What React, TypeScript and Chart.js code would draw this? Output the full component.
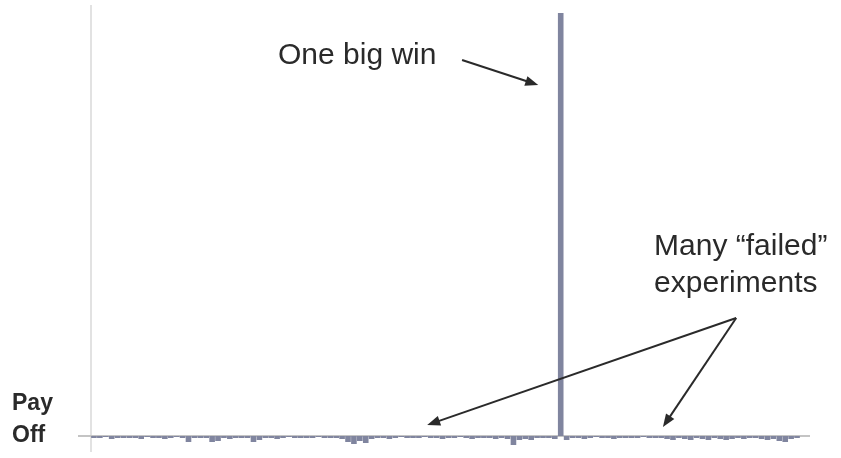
import React, { useEffect, useRef } from "react";
import { Chart, registerables } from "chart.js";

Chart.register(...registerables);

// ---- data ----
const experiments: string[] = Array.from({ length: 120 }, (_, i) => `E${i + 1}`);
const payoff: number[] = [
  -2, -2, -1, -3, -2, -2, -2, -2, -3, -1,
  -2, -2, -3, -2, -1, -2, -6, -2, -2, -2,
  -6, -5, -2, -3, -2, -2, -2, -6, -4, -2,
  -2, -3, -2, -1, -2, -2, -2, -2, -1, -2,
  -2, -2, -3, -6, -8, -5, -7, -3, -2, -2,
  -3, -2, -1, -2, -2, -2, -1, -2, -2, -3,
  -2, -2, -1, -2, -3, -2, -2, -2, -3, -2,
  -3, -9, -4, -3, -4, -2, -2, -2, -3, 423,
  -4, -2, -2, -3, -2, -1, -2, -2, -3, -2,
  -2, -2, -2, -1, -2, -2, -2, -3, -4, -2,
  -3, -4, -2, -3, -4, -2, -3, -4, -3, -2,
  -3, -2, -2, -3, -4, -3, -5, -6, -3, -2,
];
const yMin = -16;
const yMax = 431;

// annotations in data coordinates (category index, value)
const bigWinLabel = { text: "One big win", idx: 31.15, val: 372 };
const failedLabels = [
  { text: "Many \u201cfailed\u201d", idx: 94.8, val: 181 },
  { text: "experiments", idx: 94.8, val: 144 },
];
const arrows = [
  { from: [62.3, 376], to: [75.2, 351] },
  { from: [108.7, 118], to: [56.4, 11] },
  { from: [108.7, 118], to: [96.3, 9] },
];
const axisLabel = ["Pay", "Off"];

const drawArrow = (ctx: CanvasRenderingContext2D, x1: number, y1: number, x2: number, y2: number) => {
  const ang = Math.atan2(y2 - y1, x2 - x1);
  const hl = 13;
  const hw = 5;
  ctx.beginPath();
  ctx.moveTo(x1, y1);
  ctx.lineTo(x2 - Math.cos(ang) * hl * 0.8, y2 - Math.sin(ang) * hl * 0.8);
  ctx.stroke();
  ctx.beginPath();
  ctx.moveTo(x2, y2);
  ctx.lineTo(x2 - Math.cos(ang) * hl - Math.sin(ang) * hw, y2 - Math.sin(ang) * hl + Math.cos(ang) * hw);
  ctx.lineTo(x2 - Math.cos(ang) * hl + Math.sin(ang) * hw, y2 - Math.sin(ang) * hl - Math.cos(ang) * hw);
  ctx.closePath();
  ctx.fill();
};

const decorPlugin = {
  id: "decor",
  beforeDatasetsDraw(chart: any) {
    const { ctx, chartArea, scales } = chart;
    const y0 = scales.y.getPixelForValue(0);
    ctx.save();
    // y axis line
    ctx.strokeStyle = "#e2e2e2";
    ctx.lineWidth = 2;
    ctx.beginPath();
    ctx.moveTo(chartArea.left, chartArea.top);
    ctx.lineTo(chartArea.left, chartArea.bottom);
    ctx.stroke();
    // baseline
    ctx.strokeStyle = "#c4c4c4";
    ctx.lineWidth = 2;
    ctx.beginPath();
    ctx.moveTo(chartArea.left - 13, y0);
    ctx.lineTo(chartArea.right + 10, y0);
    ctx.stroke();
    ctx.restore();
  },
  afterDatasetsDraw(chart: any) {
    const { ctx, chartArea, scales } = chart;
    const xs = scales.x;
    const ys = scales.y;
    const y0 = ys.getPixelForValue(0);
    ctx.save();
    ctx.fillStyle = "#2a2a2a";
    ctx.strokeStyle = "#2a2a2a";
    ctx.textBaseline = "alphabetic";
    ctx.textAlign = "left";
    ctx.font = "30px 'Liberation Sans', Arial, sans-serif";
    ctx.fillText(bigWinLabel.text, xs.getPixelForValue(bigWinLabel.idx), ys.getPixelForValue(bigWinLabel.val));
    failedLabels.forEach((l) => {
      ctx.fillText(l.text, xs.getPixelForValue(l.idx), ys.getPixelForValue(l.val));
    });
    ctx.lineWidth = 2;
    arrows.forEach((a) => {
      drawArrow(
        ctx,
        xs.getPixelForValue(a.from[0]),
        ys.getPixelForValue(a.from[1]),
        xs.getPixelForValue(a.to[0]),
        ys.getPixelForValue(a.to[1])
      );
    });
    ctx.font = "bold 23px 'Liberation Sans', Arial, sans-serif";
    ctx.fillText(axisLabel[0], chartArea.left - 79, y0 - 26);
    ctx.fillText(axisLabel[1], chartArea.left - 79, y0 + 6);
    ctx.restore();
  },
};

export default function App() {
  const ref = useRef<HTMLCanvasElement | null>(null);
  useEffect(() => {
    document.body.style.margin = "0";
    const canvas = ref.current;
    if (!canvas) return;
    const chart = new Chart(canvas, {
      type: "bar",
      data: {
        labels: experiments,
        datasets: [
          {
            data: payoff,
            backgroundColor: "#80859f",
            borderWidth: 0,
            barPercentage: 1.0,
            categoryPercentage: 0.95,
          },
        ],
      },
      options: {
        responsive: false,
        animation: false,
        layout: { padding: { left: 91, right: 41, top: 5, bottom: 6 } },
        plugins: { legend: { display: false }, tooltip: { enabled: false } },
        scales: {
          x: { display: false, offset: true },
          y: { display: false, min: yMin, max: yMax },
        },
      },
      plugins: [decorPlugin],
    });
    return () => chart.destroy();
  }, []);
  return (
    <div style={{ width: 841, height: 458, background: "#fff" }}>
      <canvas ref={ref} width={841} height={458} style={{ display: "block" }} />
    </div>
  );
}
